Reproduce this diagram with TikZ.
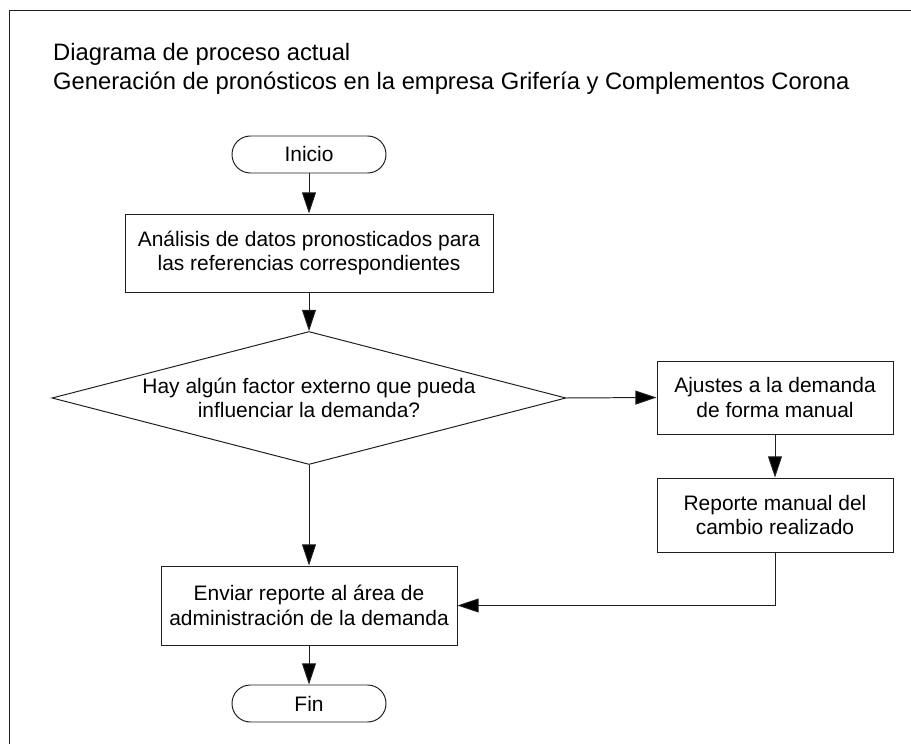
\documentclass[tikz,border=0pt]{standalone}
\usepackage{fontspec}
\setmainfont{Liberation Sans}
\usepackage{tikz}
\usetikzlibrary{arrows.meta,shapes}
\definecolor{mygray}{gray}{.12}

\begin{document}
\begin{tikzpicture}
	  \tikzstyle{every node} = [draw=mygray, line width=0.7pt, align=center, font=\fontsize{14.9}{17.6}\selectfont]
	  \tikzstyle{caja} = [rectangle, inner sep=0pt]
	  \tikzstyle{terminal} = [rectangle, rounded corners=0.46cm, minimum width=3.85cm, minimum height=0.925cm, inner sep=0pt]
	  \tikzstyle{titulo} = [draw=none, anchor=base west, inner sep=0pt, font=\fontsize{16.9}{19.9}\selectfont]
	  \tikzstyle{flecha} = [draw=mygray, line width=0.7pt, -{Triangle[length=0.53cm, width=0.35cm, fill=black]}]
	  \useasboundingbox (0, 0) rectangle (22.775, -18.6);
	  \draw [draw=mygray, line width=0.7pt] (22.775, -0.25) -- (0.2375, -0.25) -- (0.2375, -18.6);
	  \node (t1)[titulo] at (1.317, -1.525) {Diagrama de proceso actual};
	  \node (t2)[titulo] at (1.317, -2.233) {Generación de pronósticos en la empresa Grifería y Complementos Corona};
	  \node (1)[terminal] at (7.725, -3.8625) {Inicio};
	  \node (2)[caja, minimum width=9.2cm, minimum height=1.95cm] at (7.725, -6.325) {Análisis de datos pronosticados para\\las referencias correspondientes};
	  \node (3)[diamond, aspect=3.86, inner sep=-4pt, minimum width=12.85cm, minimum height=3.325cm] at (7.725, -9.95) {Hay algún factor externo que pueda\\influenciar la demanda?};
	  \node (4)[caja, minimum width=5.9cm, minimum height=1.825cm] at (19.375, -9.9375) {Ajustes a la demanda\\de forma manual};
	  \node (5)[caja, minimum width=5.9cm, minimum height=1.85cm] at (19.375, -12.875) {Reporte manual del\\cambio realizado};
	  \node (6)[caja, minimum width=7.4cm, minimum height=1.975cm] at (7.725, -15.1375) {Enviar reporte al área de\\administración de la demanda};
	  \node (7)[terminal] at (7.725, -17.5875) {Fin};
	  \draw [flecha] (1) -- (2);
	  \draw [flecha] (2) -- (3);
	  \draw [flecha] (3.east) -- (4.west);
	  \draw [flecha] (4) -- (5);
	  \draw [flecha] (3) -- (6);
	  \draw [flecha] (5) |- (6);
	  \draw [flecha] (6) -- (7);
	\end{tikzpicture}
\end{document}
